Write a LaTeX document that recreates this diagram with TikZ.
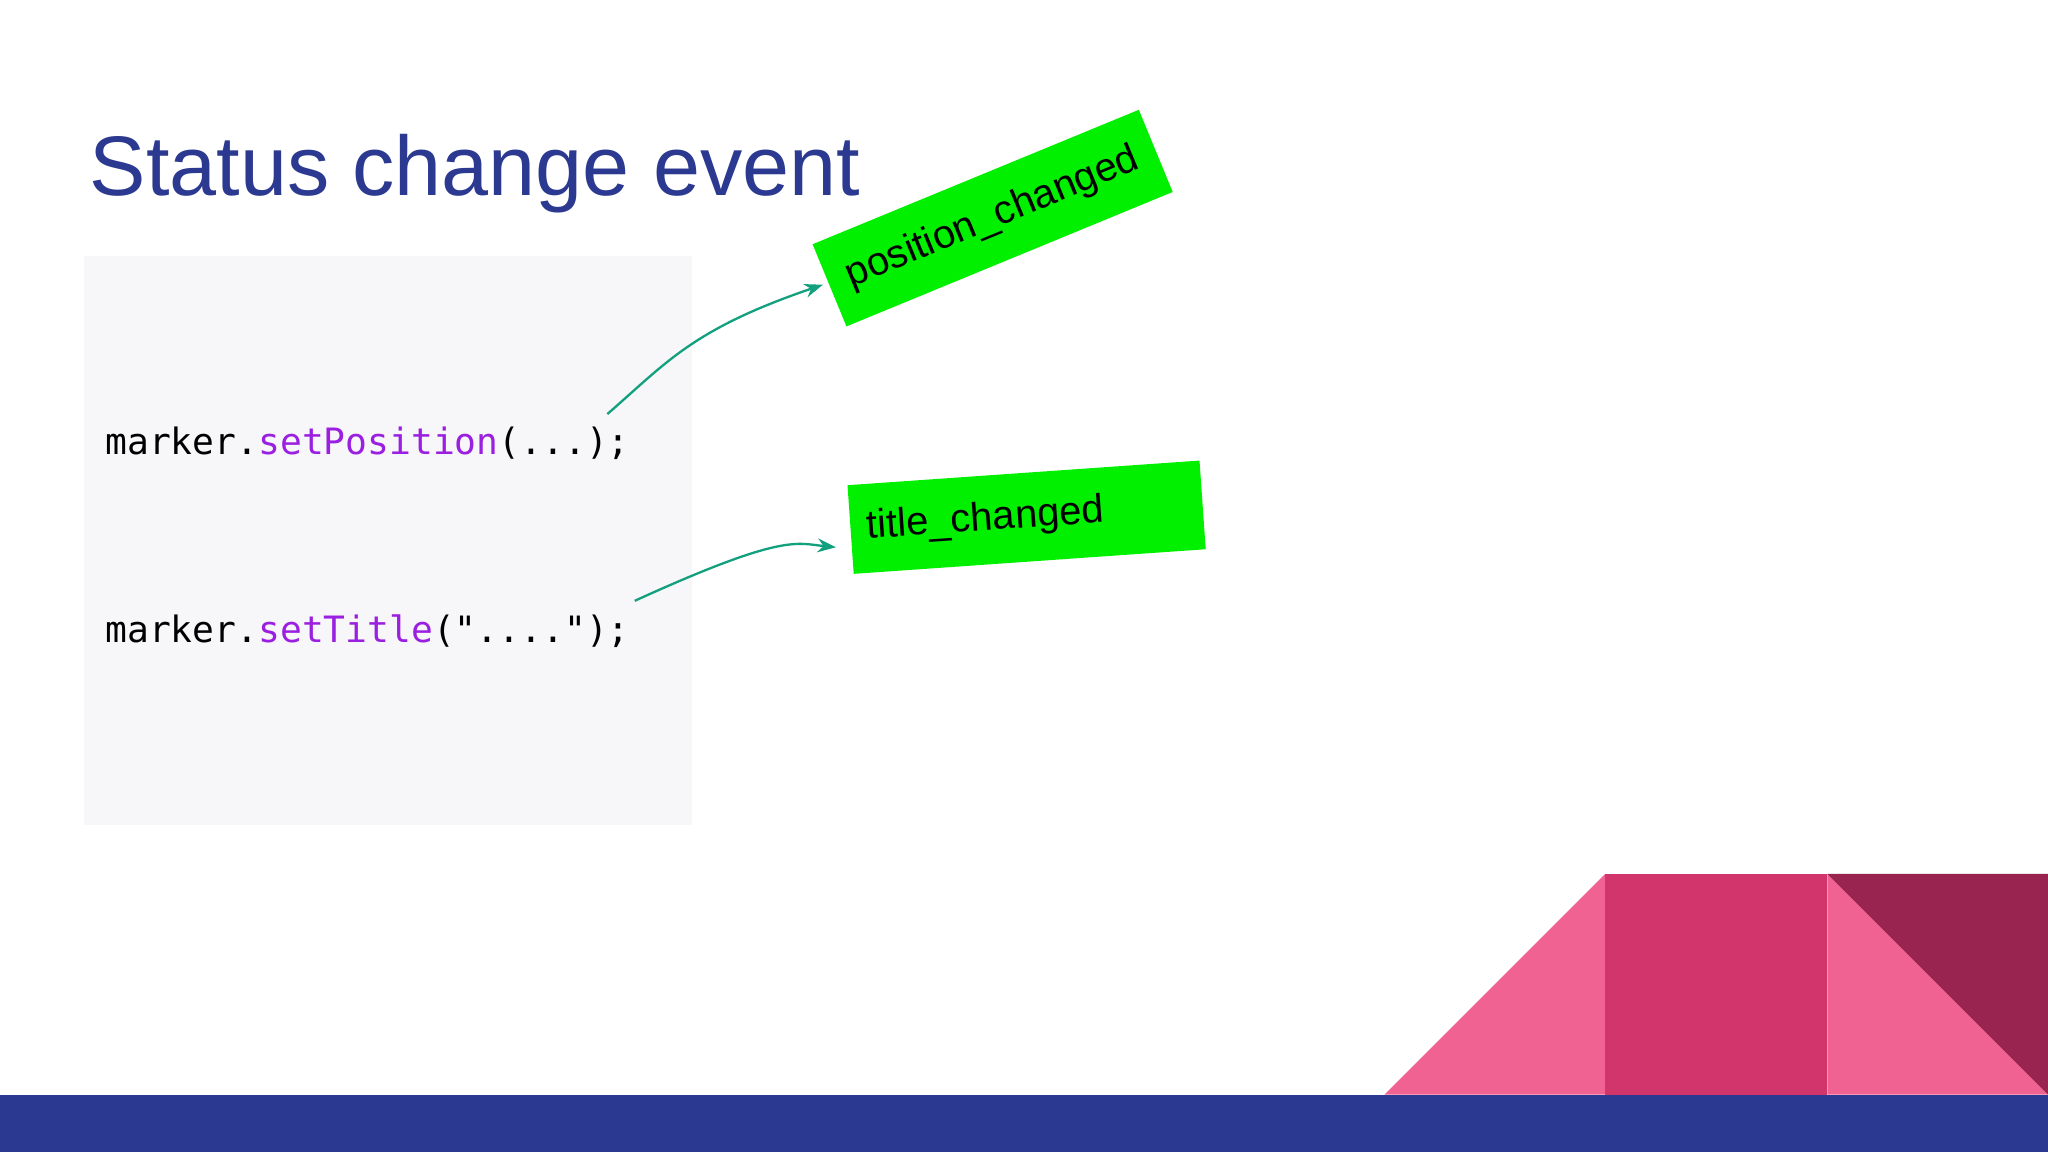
\documentclass[tikz,border=0pt]{standalone}
\usepackage{fontspec}
\setmainfont{Liberation Sans}
\setmonofont{DejaVu Sans Mono}
\definecolor{titleblue}{HTML}{2B3990}
\definecolor{codebg}{HTML}{F7F6F9}
\definecolor{purp}{HTML}{9A1FE0}
\definecolor{lpink}{HTML}{EF6292}
\definecolor{mpink}{HTML}{D1356B}
\definecolor{dpink}{HTML}{99244F}
\definecolor{teal}{HTML}{12A07E}
\definecolor{taggreen}{RGB}{0,240,0}
\usetikzlibrary{arrows.meta}
\tikzset{
  tag/.style={fill=taggreen, minimum width=2.7cm, minimum height=0.68cm, inner sep=0pt, font=\fontsize{8.7pt}{10pt}\selectfont},
  code/.style={anchor=base west, inner sep=0pt, font=\ttfamily\fontsize{7.9pt}{9pt}\selectfont},
  conn/.style={draw=teal, line width=0.5pt, -{Stealth[length=4pt,width=3pt]}}
}
\begin{document}
\begin{tikzpicture}[x=0.01cm,y=-0.01cm]
\useasboundingbox (0,0) rectangle (1568,882);
\fill[white] (0,0) rectangle (1568,882);
\node[anchor=base west, inner sep=0pt, text=titleblue, font=\fontsize{18.4pt}{22pt}\selectfont] (title) at (68,150) {Status change event};
\fill[codebg] (64,196) rectangle (530,632);
\node[code] (c1) at (80,348) {marker.\textcolor{purp}{setPosition}(...);};
\node[code] (c2) at (80,492) {marker.\textcolor{purp}{setTitle}("....");};
\node[tag, rotate=22.4] (pos) at (760,167) {position\_changed};
\node[tag, rotate=4, text width=2.45cm, align=left] (tit) at (786,396) {title\_changed};
\coordinate (s1) at (465,317);
\coordinate (s2) at (486,460);
\coordinate (e1) at (630,218);
\coordinate (e2) at (640,419);
\draw[conn] (s1) .. controls (510,278) and (530,252) .. (e1);
\draw[conn] (s2) .. controls (600,408) and (610,416) .. (e2);
\fill[lpink] (1060,838) -- (1229,669) -- (1229,838) -- cycle;
\fill[mpink] (1229,669) rectangle (1399,838);
\fill[lpink] (1399,669) -- (1568,838) -- (1399,838) -- cycle;
\fill[dpink] (1399,669) -- (1568,669) -- (1568,838) -- cycle;
\fill[titleblue] (0,838) rectangle (1568,882);
\end{tikzpicture}
\end{document}
